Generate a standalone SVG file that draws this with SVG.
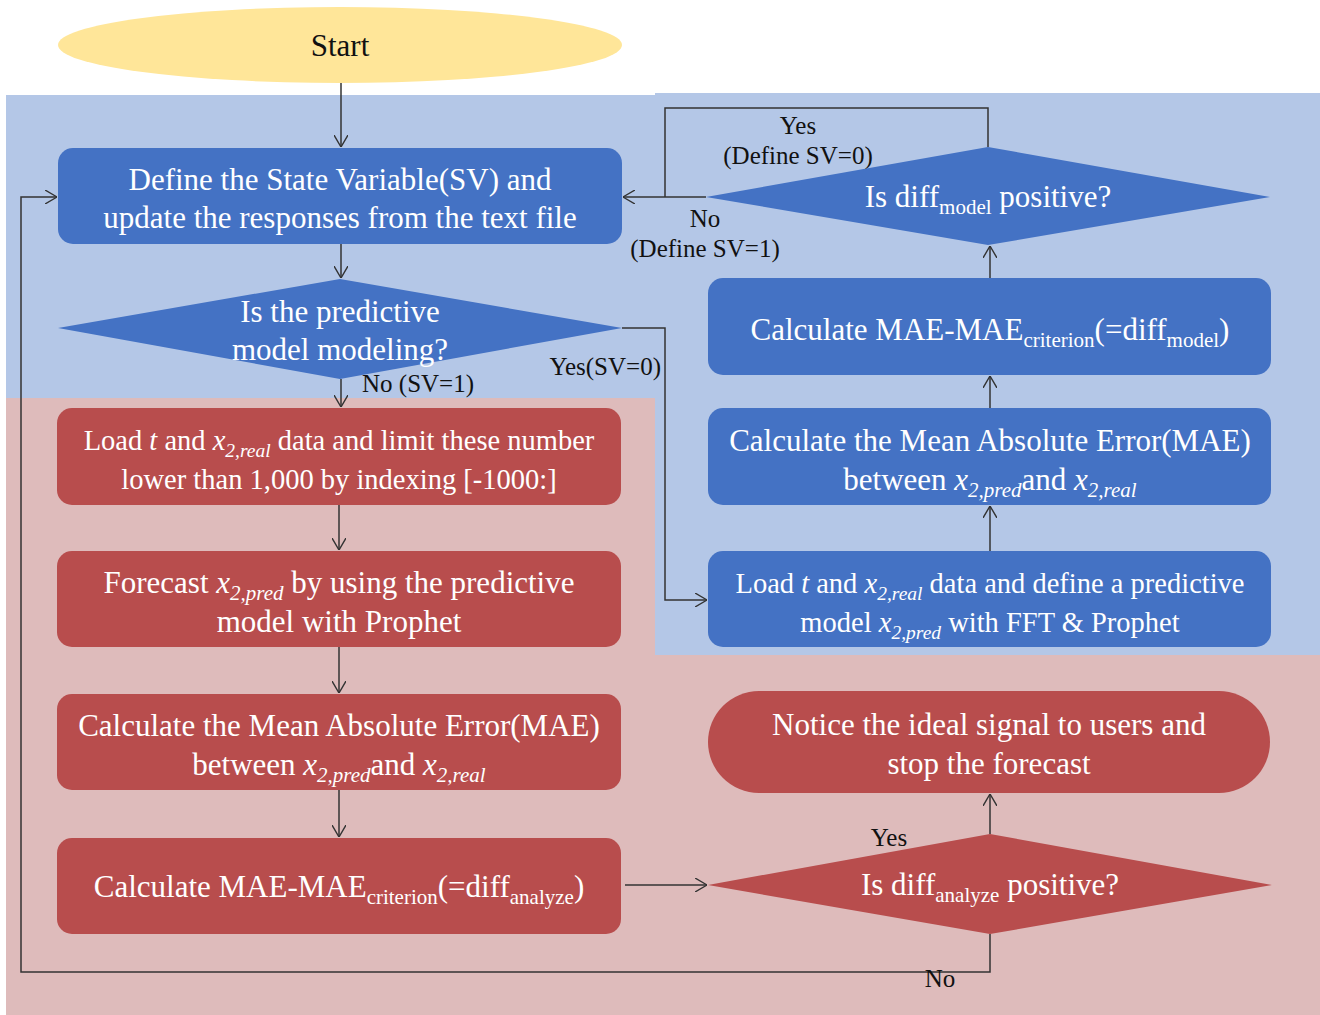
<svg xmlns="http://www.w3.org/2000/svg" width="1320" height="1015" viewBox="0 0 1320 1015">
  <style>
    .blue { fill: #4472C4; }
    .red { fill: #B84D4D; }
    .t { font-family: "Liberation Serif", "Times New Roman", serif; font-size: 31px; fill: #FFFFFF; text-anchor: middle; }
    .t.narrow { font-size: 28.5px; }
    .lbl { font-family: "Liberation Serif", "Times New Roman", serif; font-size: 25px; fill: #111111; }
    .sub { font-size: 21px; }
    .t.narrow .sub { font-size: 19.5px; }
    .it { font-style: italic; }
    .wire { fill: none; stroke: #333333; stroke-width: 1.5; }
  </style>
  <defs>
    <marker id="arrow" viewBox="0 0 12 14" refX="12" refY="7" markerWidth="12" markerHeight="14" markerUnits="userSpaceOnUse" orient="auto">
      <path d="M0,0 L12,7 L0,14" fill="none" stroke="#333333" stroke-width="1.4"/>
    </marker>
  </defs>

  <!-- background zones -->
  <rect x="0" y="0" width="1320" height="1015" fill="#FFFFFF"/>
  <path d="M6,95 H655 V93 H1320 V655 H655 V398 H6 Z" fill="#B4C7E7"/>
  <path d="M6,398 H655 V655 H1320 V1015 H6 Z" fill="#DEBBBB"/>

  <!-- connectors -->
  <g id="connectors">
    <path class="wire" d="M341,83 V147" marker-end="url(#arrow)"/>
    <path class="wire" d="M341,244 V278" marker-end="url(#arrow)"/>
    <path class="wire" d="M341,379 V407" marker-end="url(#arrow)"/>
    <path class="wire" d="M622,328 H665 V600 H707" marker-end="url(#arrow)"/>
    <path class="wire" d="M339,505 V550" marker-end="url(#arrow)"/>
    <path class="wire" d="M339,647 V693" marker-end="url(#arrow)"/>
    <path class="wire" d="M339,790 V837" marker-end="url(#arrow)"/>
    <path class="wire" d="M625,885 H707" marker-end="url(#arrow)"/>
    <path class="wire" d="M990,834 V794" marker-end="url(#arrow)"/>
    <path class="wire" d="M990,934 V972 H21 V197 H57" marker-end="url(#arrow)"/>
    <path class="wire" d="M990,551 V506" marker-end="url(#arrow)"/>
    <path class="wire" d="M990,408 V376" marker-end="url(#arrow)"/>
    <path class="wire" d="M990,278 V246" marker-end="url(#arrow)"/>
    <path class="wire" d="M706,197 H623" marker-end="url(#arrow)"/>
    <path class="wire" d="M988,147 V108 H665 V197"/>

    <text class="lbl" x="798" y="134" text-anchor="middle">Yes</text>
    <text class="lbl" x="798" y="164" text-anchor="middle">(Define SV=0)</text>
    <text class="lbl" x="705" y="227" text-anchor="middle">No</text>
    <text class="lbl" x="705" y="257" text-anchor="middle">(Define SV=1)</text>
    <text class="lbl" x="362" y="392">No (SV=1)</text>
    <text class="lbl" x="661" y="375" text-anchor="end">Yes(SV=0)</text>
    <text class="lbl" x="889" y="846" text-anchor="middle">Yes</text>
    <text class="lbl" x="940" y="987" text-anchor="middle">No</text>
  </g>

  <!-- start terminal -->
  <g id="start">
    <ellipse cx="340" cy="45" rx="282" ry="38" fill="#FFE699"/>
    <text class="t" x="340" y="56" style="fill:#111111">Start</text>
  </g>

  <!-- left column -->
  <g id="define-sv">
    <rect class="blue" x="58" y="148" width="564" height="96" rx="15"/>
    <text class="t" x="340" y="190">Define the State Variable(SV) and</text>
    <text class="t" x="340" y="228">update the responses from the text file</text>
  </g>

  <g id="is-modeling">
    <polygon class="blue" points="58,328 340,279 622,328 340,379"/>
    <text class="t" x="340" y="322">Is the predictive</text>
    <text class="t" x="340" y="360">model modeling?</text>
  </g>

  <g id="load-limit">
    <rect class="red" x="57" y="408" width="564" height="97" rx="15"/>
    <text class="t narrow" x="339" y="450">Load <tspan class="it">t</tspan> and <tspan class="it">x</tspan><tspan class="sub it" dy="7">2,real</tspan><tspan dy="-7"> data and limit these number</tspan></text>
    <text class="t narrow" x="339" y="489">lower than 1,000 by indexing [-1000:]</text>
  </g>

  <g id="forecast">
    <rect class="red" x="57" y="551" width="564" height="96" rx="15"/>
    <text class="t" x="339" y="593">Forecast <tspan class="it">x</tspan><tspan class="sub it" dy="7">2,pred</tspan><tspan dy="-7"> by using the predictive</tspan></text>
    <text class="t" x="339" y="632">model with Prophet</text>
  </g>

  <g id="mae-analyze">
    <rect class="red" x="57" y="694" width="564" height="96" rx="15"/>
    <text class="t" x="339" y="736">Calculate the Mean Absolute Error(MAE)</text>
    <text class="t" x="339" y="775">between <tspan class="it">x</tspan><tspan class="sub it" dy="7">2,pred</tspan><tspan dy="-7">and </tspan><tspan class="it">x</tspan><tspan class="sub it" dy="7">2,real</tspan></text>
  </g>

  <g id="diff-analyze">
    <rect class="red" x="57" y="838" width="564" height="96" rx="15"/>
    <text class="t" x="339" y="897">Calculate MAE-MAE<tspan class="sub" dy="7">criterion</tspan><tspan dy="-7">(=diff</tspan><tspan class="sub" dy="7">analyze</tspan><tspan dy="-7">)</tspan></text>
  </g>

  <!-- right column -->
  <g id="is-diff-model">
    <polygon class="blue" points="706,197 988,147 1270,197 988,245"/>
    <text class="t" x="988" y="207">Is diff<tspan class="sub" dy="7">model</tspan><tspan dy="-7"> positive?</tspan></text>
  </g>

  <g id="diff-model">
    <rect class="blue" x="708" y="278" width="563" height="97" rx="15"/>
    <text class="t" x="990" y="340">Calculate MAE-MAE<tspan class="sub" dy="7">criterion</tspan><tspan dy="-7">(=diff</tspan><tspan class="sub" dy="7">model</tspan><tspan dy="-7">)</tspan></text>
  </g>

  <g id="mae-model">
    <rect class="blue" x="708" y="408" width="563" height="97" rx="15"/>
    <text class="t" x="990" y="451">Calculate the Mean Absolute Error(MAE)</text>
    <text class="t" x="990" y="490">between <tspan class="it">x</tspan><tspan class="sub it" dy="7">2,pred</tspan><tspan dy="-7">and </tspan><tspan class="it">x</tspan><tspan class="sub it" dy="7">2,real</tspan></text>
  </g>

  <g id="load-define">
    <rect class="blue" x="708" y="551" width="563" height="96" rx="15"/>
    <text class="t narrow" x="990" y="593">Load <tspan class="it">t</tspan> and <tspan class="it">x</tspan><tspan class="sub it" dy="7">2,real</tspan><tspan dy="-7"> data and define a predictive</tspan></text>
    <text class="t narrow" x="990" y="632">model <tspan class="it">x</tspan><tspan class="sub it" dy="7">2,pred</tspan><tspan dy="-7"> with FFT &amp; Prophet</tspan></text>
  </g>

  <g id="notice">
    <rect class="red" x="708" y="691" width="562" height="102" rx="51"/>
    <text class="t" x="989" y="735">Notice the ideal signal to users and</text>
    <text class="t" x="989" y="774">stop the forecast</text>
  </g>

  <g id="is-diff-analyze">
    <polygon class="red" points="708,885 990,834 1272,885 990,934"/>
    <text class="t" x="990" y="895">Is diff<tspan class="sub" dy="7">analyze</tspan><tspan dy="-7"> positive?</tspan></text>
  </g>
</svg>
